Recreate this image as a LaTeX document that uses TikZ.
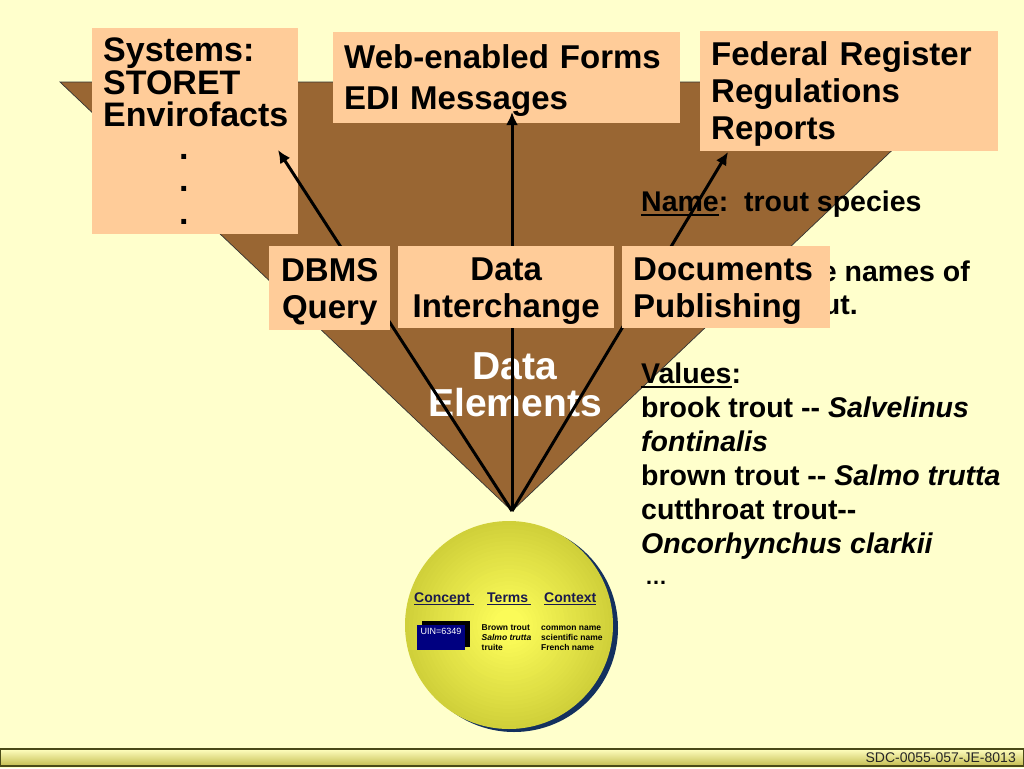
\documentclass[tikz,border=0pt]{standalone}
\usepackage{fontspec}
\setmainfont{Liberation Sans}
\usetikzlibrary{arrows.meta}

\definecolor{paper}{HTML}{FFFFCC}
\definecolor{mud}{HTML}{996633}
\definecolor{peach}{HTML}{FFCC99}
\definecolor{poolin}{HTML}{FBFB58}
\definecolor{poolout}{HTML}{D0D03A}
\definecolor{poolrim}{HTML}{13305E}
\definecolor{ink}{HTML}{1A1A4D}
\definecolor{uinblue}{HTML}{000080}
\definecolor{bartop}{HTML}{FFFFC0}
\definecolor{barmid}{HTML}{F2EE80}
\definecolor{barbot}{HTML}{C4BC50}
\definecolor{barline}{HTML}{4A4A18}
\newcommand\ulin[3]{\setbox0\hbox{#3}\rlap{\rule[-#1]{\wd0}{#2}}\box0}
\newcommand\dd{-\kern0pt-}

\begin{document}
\begin{tikzpicture}[x=1pt,y=-1pt]
  \tikzstyle{BoxStyle}=[fill=peach,inner xsep=11pt,inner ysep=0pt,anchor=north west,
    font=\fontsize{33}{37}\selectfont\bfseries]
  \tikzstyle{TextStyle}=[inner sep=0pt,font=\fontsize{28.5}{34}\selectfont\bfseries]
  \tikzstyle{HeadStyle}=[inner sep=0pt,anchor=base west,text=ink,
    font=\fontsize{14}{14}\selectfont\bfseries]
  \tikzstyle{SmallStyle}=[inner sep=0pt,anchor=north west,align=left,
    font=\fontsize{8.5}{10}\selectfont\bfseries]
  \tikzstyle{EdgeStyle}=[line width=3pt,-{Latex[length=13pt,width=12pt]}]

  \fill[paper] (0,0) rectangle (1024,768);
  \useasboundingbox (0,0) rectangle (1024,768);

  % funnel
  \filldraw[fill=mud,draw=black!80,line width=0.7pt] (60,82) -- (964,82) -- (512,511) -- cycle;
  \coordinate (apex) at (512,511);
  \node[text=white,align=center,inner sep=0pt,font=\fontsize{39}{37}\selectfont\bfseries]
    (elements) at (515,384.5) {Data\\Elements};

  % definition text
  \node[TextStyle,anchor=base west] (name) at (641,211) {\ulin{5pt}{2pt}{Name}:\ \ trout species};
  \node[TextStyle,anchor=base east] (def1) at (970,281) {e names of};
  \node[TextStyle,anchor=base east] (def2) at (858,314) {ut.};
  \node[TextStyle,anchor=north west,align=left] (values) at (641,362.6)
    {\ulin{5pt}{2pt}{Values}:\\brook trout \dd{} \textit{Salvelinus}\\\textit{fontinalis}\\
     brown trout \dd{} \textit{Salmo trutta}\\cutthroat trout\dd\\\textit{Oncorhynchus clarkii}};
  \node[TextStyle,anchor=base west,font=\fontsize{22}{22}\selectfont\bfseries] (more) at (645,584) {…};

  % targets
  \node[BoxStyle,text width=184pt,minimum height=206pt,align=left,
    font=\fontsize{34}{32.5}\selectfont\bfseries] (sys) at (92,28)
    {Systems:\\STORET\\Envirofacts\\\hspace*{76pt}.\\\hspace*{76pt}.\\\hspace*{76pt}.};
  \node[BoxStyle,text width=325pt,minimum height=91pt,align=left,
    font=\fontsize{33}{41}\selectfont\bfseries] (web) at (333,32)
    {\rule{0pt}{30pt}Web-enabled Forms\\EDI Messages};
  \node[BoxStyle,text width=276pt,minimum height=120pt,align=left] (fed) at (700,31)
    {\rule{0pt}{29pt}Federal Register\\Regulations\\Reports};

  % uses
  \coordinate (systip) at (278,150);
  \coordinate (webtip) at (512,112);
  \coordinate (fedtip) at (728,152);
  \draw[EdgeStyle] (apex) -- (systip);
  \draw[EdgeStyle] (apex) -- (webtip);
  \draw[EdgeStyle] (apex) -- (fedtip);

  \node[BoxStyle,text width=99pt,minimum height=84pt,align=center] (dbms) at (269,246)
    {\rule{0pt}{31pt}DBMS\\Query};
  \node[BoxStyle,text width=194pt,minimum height=82pt,align=center] (exchange) at (398,246)
    {\rule{0pt}{31pt}Data\\Interchange};
  \node[BoxStyle,text width=186pt,minimum height=82pt,align=left] (docs) at (622,246)
    {\rule{0pt}{31pt}Documents\\Publishing};

  % registry
  \node[circle,minimum size=208pt,inner sep=0pt,fill=poolrim] (poolrim) at (514,628) {};
  \node[circle,minimum size=208pt,inner sep=0pt,fill=poolout] (pool) at (509,625) {};
  \foreach \ring [evaluate=\ring as \ringrad using {104-4*\ring},
                  evaluate=\ring as \ringmix using {min(100,400*\ring/88)}] in {1,...,24}
    \fill[poolin!\ringmix!poolout] (pool.center) circle (\ringrad);
  \node[HeadStyle] (concept) at (414,602) {\ulin{3pt}{1.3pt}{Concept\ }};
  \node[HeadStyle] (terms) at (487,602) {\ulin{3pt}{1.3pt}{Terms\,}};
  \node[HeadStyle] (context) at (544,602) {\ulin{3pt}{1.3pt}{Context}};
  \node[fill=black,minimum width=48pt,minimum height=26pt,inner sep=0pt] (uinshadow) at (446,634) {};
  \node[fill=uinblue,text=white,minimum width=48pt,inner sep=0pt,text height=9.3pt,text depth=15.7pt,
    font=\fontsize{9}{9}\selectfont] (uin) at (441,637.5) {UIN=6349};
  \node[SmallStyle] (termlist) at (481.5,624.3) {Brown trout\\\textit{Salmo trutta}\\truite};
  \node[SmallStyle] (contextlist) at (541,624.3) {\vphantom{B}common name\\scientific name\\French name};

  % footer
  \node[minimum width=1024pt,minimum height=17pt,inner sep=0pt,draw=barline,line width=1.5pt,
    top color=bartop,middle color=barmid,bottom color=barbot] (footer) at (512,757.5) {};
  \node[anchor=east,inner sep=0pt,text=black!85,font=\fontsize{14}{14}\selectfont] (docid)
    at (1016,757.5) {SDC-0055-057-JE-8013};
\end{tikzpicture}
\end{document}
